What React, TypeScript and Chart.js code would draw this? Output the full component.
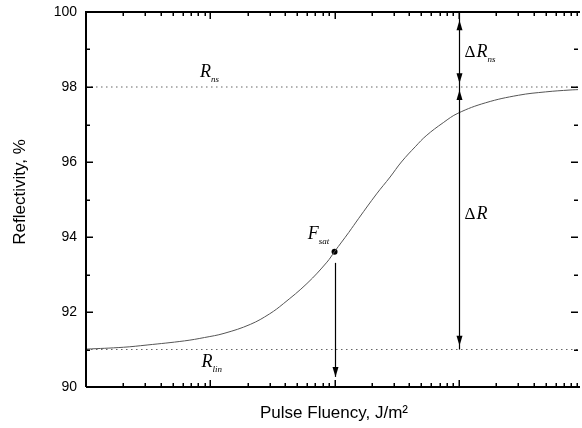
import React, { useEffect, useRef } from 'react';
import { Chart, registerables } from 'chart.js';

Chart.register(...registerables);

// Curve: pulse fluency (log axis, arbitrary units) vs reflectivity (%)
const fluency = [1, 2, 3.1, 6.2, 9, 12.9, 21, 30, 38.7, 60, 86.9, 100, 130, 156.7, 218, 280, 345, 450, 546, 750, 984, 1645, 3020, 5000, 7850, 9100];
const reflectivity = [91.01, 91.06, 91.12, 91.23, 91.32, 91.43, 91.67, 91.95, 92.22, 92.76, 93.33, 93.61, 94.12, 94.5, 95.15, 95.6, 96.0, 96.42, 96.7, 97.05, 97.3, 97.58, 97.78, 97.87, 97.92, 97.93];

const yTickValues = [90, 92, 94, 96, 98, 100];
const xMin = 1;
const xMax = 9100;
const yMin = 90;
const yMax = 100;

const rNs = 98;
const rLin = 91;
const fSat = 100;
const rSat = 93.61;

// Arrows: x value, line start/end (reflectivity), arrow-head tips (null = no head)
const arrowX = [100, 1000, 1000];
const arrowFrom = [93.31, 100, 98];
const arrowTo = [90.27, 98, 91];
const arrowHeadStart = [null, 99.78, 97.92];
const arrowHeadEnd = [90.27, 98.1, 91.1];

const overlay = {
  id: 'overlay',
  afterDatasetsDraw(chart: any) {
    const { ctx, chartArea: a, scales } = chart;
    const x = scales.x;
    const y = scales.y;
    ctx.save();

    // Frame (left, top, bottom)
    ctx.strokeStyle = '#000';
    ctx.lineWidth = 2;
    ctx.beginPath();
    ctx.moveTo(a.left, a.bottom);
    ctx.lineTo(a.left, a.top);
    ctx.lineTo(a.right + 2, a.top);
    ctx.moveTo(a.left, a.bottom);
    ctx.lineTo(a.right + 2, a.bottom);
    ctx.stroke();

    // Y ticks (inside, both sides)
    ctx.lineWidth = 1.5;
    ctx.beginPath();
    for (let v = yMin + 1; v < yMax; v++) {
      const py = Math.round(y.getPixelForValue(v)) + 0.25;
      const len = v % 2 === 0 ? 7 : 4;
      ctx.moveTo(a.left, py);
      ctx.lineTo(a.left + len, py);
      ctx.moveTo(a.right, py);
      ctx.lineTo(a.right - len, py);
    }
    // X ticks (log, inside, top & bottom)
    for (let d = 0; d <= 4; d++) {
      for (let k = 1; k <= 9; k++) {
        const v = k * Math.pow(10, d);
        if (v <= xMin || v >= xMax) continue;
        const px = Math.round(x.getPixelForValue(v)) + 0.25;
        const len = k === 1 ? 7 : 4;
        ctx.moveTo(px, a.bottom);
        ctx.lineTo(px, a.bottom - len);
        ctx.moveTo(px, a.top);
        ctx.lineTo(px, a.top + len);
      }
    }
    ctx.stroke();

    // Arrows
    ctx.fillStyle = '#000';
    ctx.lineWidth = 1.2;
    const head = (px: number, tipY: number, dir: number) => {
      ctx.beginPath();
      ctx.moveTo(px, tipY);
      ctx.lineTo(px - 3, tipY - dir * 10);
      ctx.lineTo(px + 3, tipY - dir * 10);
      ctx.closePath();
      ctx.fill();
    };
    for (let i = 0; i < arrowX.length; i++) {
      const px = Math.round(x.getPixelForValue(arrowX[i])) + 0.5;
      const y1 = y.getPixelForValue(arrowFrom[i]);
      const y2 = y.getPixelForValue(arrowTo[i]);
      ctx.beginPath();
      ctx.moveTo(px, y1);
      ctx.lineTo(px, y2);
      ctx.stroke();
      const hs = arrowHeadStart[i];
      if (hs !== null) head(px, y.getPixelForValue(hs), -1);
      const he = arrowHeadEnd[i];
      if (he !== null) head(px, y.getPixelForValue(he), 1);
    }

    // Annotation labels
    const serif = '"Liberation Serif", "Times New Roman", serif';
    ctx.textBaseline = 'alphabetic';
    ctx.textAlign = 'left';
    const label = (fx: number, ry: number, pre: string, main: string, sub: string) => {
      let px = x.getPixelForValue(fx);
      const py = y.getPixelForValue(ry);
      if (pre) {
        ctx.font = '17px ' + serif;
        ctx.fillText(pre, px, py);
        px += ctx.measureText(pre).width + 1;
      }
      ctx.font = 'italic 18px ' + serif;
      ctx.fillText(main, px, py);
      px += ctx.measureText(main).width;
      if (sub) {
        ctx.font = 'italic 9px ' + serif;
        ctx.fillText(sub, px, py + 5);
      }
    };
    label(8.28, 98.27, '', 'R', 'ns');
    label(1110, 98.8, 'Δ', 'R', 'ns');
    label(1110, 94.48, 'Δ', 'R', '');
    label(60.9, 93.95, '', 'F', 'sat');
    label(8.5, 90.53, '', 'R', 'lin');

    // Axis titles
    const sans = '"Liberation Sans", Arial, sans-serif';
    ctx.font = '17px ' + sans;
    ctx.textAlign = 'center';
    ctx.fillText('Pulse Fluency, J/m²', (a.left + a.right) / 2 + 2, 418);
    ctx.save();
    ctx.translate(25, 192);
    ctx.rotate(-Math.PI / 2);
    ctx.fillText('Reflectivity, %', 0, 0);
    ctx.restore();

    ctx.restore();
  },
};

export default function App() {
  const ref = useRef<HTMLCanvasElement | null>(null);
  useEffect(() => {
    if (!ref.current) return;
    const curve = fluency.map((f, i) => ({ x: f, y: reflectivity[i] }));
    const chart = new Chart(ref.current, {
      type: 'line',
      data: {
        datasets: [
          {
            data: curve,
            borderColor: '#555',
            borderWidth: 1,
            pointRadius: 0,
            tension: 0.4,
          },
          {
            data: [{ x: xMin, y: rNs }, { x: xMax, y: rNs }],
            borderColor: '#666',
            borderWidth: 1.2,
            borderDash: [1.5, 3.5],
            pointRadius: 0,
          },
          {
            data: [{ x: xMin, y: rLin }, { x: xMax, y: rLin }],
            borderColor: '#666',
            borderWidth: 1.2,
            borderDash: [1.5, 3.5],
            pointRadius: 0,
          },
          {
            data: [{ x: fSat, y: rSat }],
            showLine: false,
            pointRadius: 3,
            pointBackgroundColor: '#000',
            pointBorderColor: '#000',
            pointBorderWidth: 0,
          },
        ],
      },
      options: {
        responsive: false,
        animation: false,
        events: [],
        layout: { padding: { left: 0, top: 12, right: 0, bottom: 41 } },
        plugins: { legend: { display: false }, tooltip: { enabled: false } },
        scales: {
          x: {
            type: 'logarithmic',
            min: xMin,
            max: xMax,
            display: false,
          },
          y: {
            min: yMin,
            max: yMax,
            afterBuildTicks: (s: any) => {
              s.ticks = yTickValues.map((v) => ({ value: v }));
            },
            afterFit: (s: any) => {
              s.width = 86;
              s.paddingTop = 0;
              s.paddingBottom = 0;
            },
            grid: { display: false, drawTicks: false },
            border: { display: false },
            ticks: {
              padding: 9,
              color: '#000',
              font: { family: '"Liberation Sans", Arial, sans-serif', size: 14 },
            },
          },
        },
      },
      plugins: [overlay],
    } as any);
    return () => chart.destroy();
  }, []);
  return (
    <div style={{ position: 'absolute', left: 0, top: 0, width: 582, height: 428, background: '#fff' }}>
      <canvas ref={ref} width={582} height={428} style={{ display: 'block' }} />
    </div>
  );
}
